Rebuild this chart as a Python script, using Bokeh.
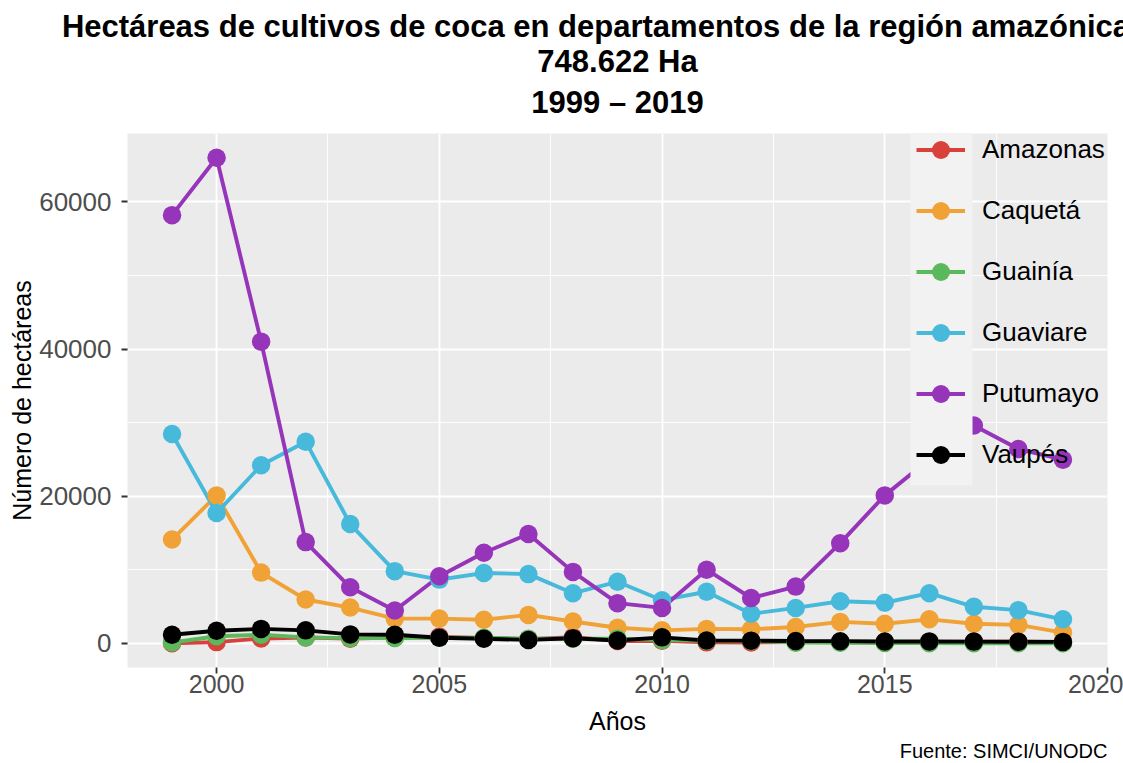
from bokeh.plotting import figure
from bokeh.models import (Range1d, FixedTicker, Title, Legend, LegendItem, BoxAnnotation)
from bokeh.embed import file_html
from bokeh.resources import INLINE

# ---------------- data ----------------
years = list(range(1999, 2020))
amazonas = [0, 150, 650, 780, 620, 780, 900, 690, 540, 830, 310, 340, 120, 100, 150, 170, 110, 170, 210, 200, 190]
caqueta = [14100, 20100, 9600, 5950, 4850, 3350, 3350, 3200, 3850, 2950, 2100, 1750, 1950, 1900, 2200, 2900, 2650, 3250, 2650, 2500, 1450]
guainia = [100, 950, 1150, 800, 700, 720, 750, 750, 620, 620, 600, 450, 320, 300, 80, 70, 40, 10, 0, 0, 0]
guaviare = [28450, 17700, 24200, 27400, 16200, 9800, 8650, 9550, 9400, 6800, 8350, 5850, 7000, 4000, 4800, 5700, 5500, 6800, 4950, 4500, 3250]
putumayo = [58200, 66000, 41000, 13750, 7600, 4450, 9100, 12300, 14850, 9700, 5450, 4800, 10000, 6150, 7700, 13600, 20100, 25000, 29600, 26400, 24950]
vaupes = [1150, 1700, 1950, 1750, 1200, 1150, 750, 600, 450, 680, 380, 800, 380, 350, 300, 280, 230, 250, 220, 200, 180]

departamentos = ["Amazonas", "Caquetá", "Guainía", "Guaviare", "Putumayo", "Vaupés"]
series = [amazonas, caqueta, guainia, guaviare, putumayo, vaupes]
colores = ["#D9413B", "#F0A236", "#5CB85C", "#47B9DB", "#9634BA", "#000000"]

x_ticks = [2000, 2005, 2010, 2015, 2020]
y_ticks = [0, 20000, 40000, 60000]

titulo1 = "Hectáreas de cultivos de coca en departamentos de la región amazónica"
titulo2 = "748.622 Ha"
titulo3 = "1999 – 2019"
fuente = "Fuente: SIMCI/UNODC"

FONT = "Liberation Sans"

# ggplot-like 5% expansion
xmin, xmax = min(years), max(years)
xpad = (xmax - xmin) * 0.05
allv = [v for s in series for v in s]
ymin, ymax = min(allv), max(allv)
ypad = (ymax - ymin) * 0.05

p = figure(width=1123, height=763, output_backend="svg", toolbar_location=None,
           title=None,
           x_range=Range1d(xmin - xpad, xmax + xpad),
           y_range=Range1d(ymin - ypad, ymax + ypad),
           min_border_left=127, min_border_right=16, min_border_top=133, min_border_bottom=96,
           background_fill_color="#EBEBEB", border_fill_color="white", outline_line_color=None)

# ticks / grid
def minors(t):
    return [(a + b) / 2 for a, b in zip(t[:-1], t[1:])]

p.xaxis.ticker = FixedTicker(ticks=x_ticks, minor_ticks=minors(x_ticks))
p.yaxis.ticker = FixedTicker(ticks=y_ticks, minor_ticks=minors(y_ticks))

for g in (p.xgrid, p.ygrid):
    g.grid_line_color = "white"
    g.grid_line_width = 1.8
    g.minor_grid_line_color = "white"
    g.minor_grid_line_width = 0.9

for ax in (p.xaxis, p.yaxis):
    ax.axis_line_color = None
    ax.major_tick_line_color = "#333333"
    ax.major_tick_line_width = 1.8
    ax.major_tick_out = 6
    ax.major_tick_in = 0
    ax.minor_tick_out = 0
    ax.minor_tick_in = 0
    ax.major_label_text_font = FONT
    ax.major_label_text_color = "#4D4D4D"
    ax.axis_label_text_font = FONT
    ax.axis_label_text_font_size = "25px"
    ax.axis_label_text_font_style = "normal"
    ax.axis_label_text_color = "black"

p.xaxis.major_label_text_font_size = "25px"
p.yaxis.major_label_text_font_size = "26px"
p.xaxis.axis_label = "Años"
p.xaxis.major_label_standoff = 1
p.xaxis.axis_label_standoff = 11
p.yaxis.axis_label = "Número de hectáreas"
p.yaxis.major_label_standoff = 10
p.yaxis.axis_label_standoff = 0

# data: lines first, then points
line_rs = []
for vals, col in zip(series, colores):
    line_rs.append(p.line(years, vals, line_color=col, line_width=3.9))
pt_rs = []
for vals, col in zip(series, colores):
    pt_rs.append(p.scatter(years, vals, size=18.5, fill_color=col, line_color=col, line_width=0))

# legend key background (opaque over data)
box = BoxAnnotation(left=783, right=845, top=550, bottom=182,
                    left_units="screen", right_units="screen", top_units="screen", bottom_units="screen",
                    fill_color="#F2F2F2", fill_alpha=1.0, line_color=None)
p.add_layout(box)

items = [LegendItem(label=name, renderers=[lr, pr]) for name, lr, pr in zip(departamentos, line_rs, pt_rs)]
legend = Legend(items=items, location=(789, 190.5), padding=0, margin=0, spacing=16,
                glyph_width=49, glyph_height=45, label_standoff=17,
                label_text_font=FONT, label_text_font_size="26px", label_text_color="black",
                background_fill_alpha=0, border_line_color=None)
p.add_layout(legend)

# titles (first added is closest to the frame)
p.add_layout(Title(text=titulo3, align="center", text_font=FONT, text_font_size="31px",
                   text_font_style="bold", text_color="black", standoff=27), "above")
p.add_layout(Title(text=titulo2, align="center", text_font=FONT, text_font_size="31px",
                   text_font_style="bold", text_color="black", standoff=-18), "above")
p.add_layout(Title(text=titulo1 + "\u00a0" * 5, align="center", text_font=FONT, text_font_size="31px",
                   text_font_style="bold", text_color="black", standoff=13), "above")

p.add_layout(Title(text=fuente, align="right", text_font=FONT, text_font_size="20px",
                   text_font_style="normal", text_color="black", standoff=0), "below")

open("out.html", "w").write(file_html(p, INLINE))
